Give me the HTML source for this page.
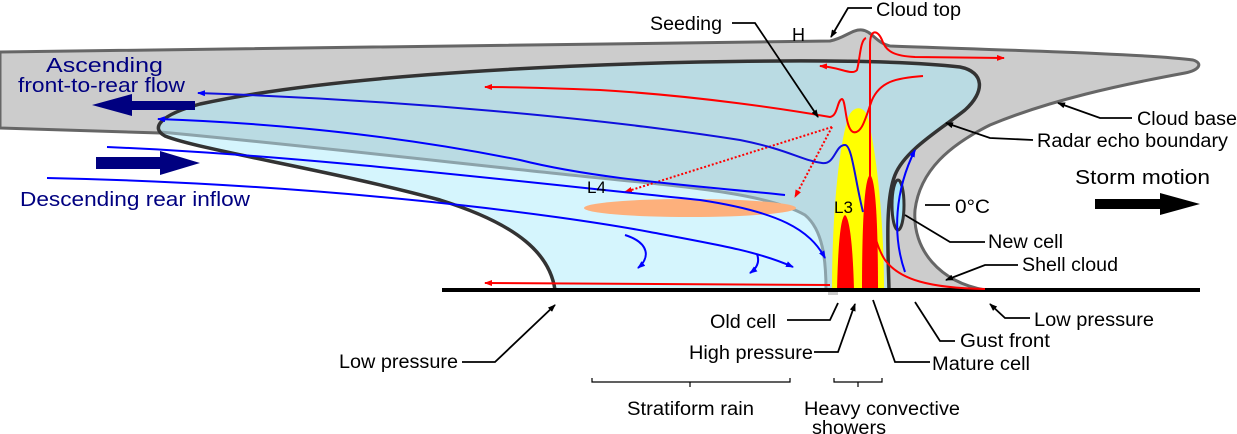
<!DOCTYPE html>
<html><head><meta charset="utf-8"><style>
html,body{margin:0;padding:0;background:#fff}
svg{display:block}
text{font-family:"Liberation Sans",sans-serif}
</style></head><body>
<svg width="1237" height="434" viewBox="0 0 1237 434" xmlns="http://www.w3.org/2000/svg">
<defs>
<marker id="ab" markerWidth="8" markerHeight="6" refX="7" refY="3" orient="auto" markerUnits="userSpaceOnUse"><path d="M0,0 L8,3 L0,6 Z" fill="#000"/></marker>
<marker id="ar" markerWidth="8" markerHeight="6" refX="7" refY="3" orient="auto" markerUnits="userSpaceOnUse"><path d="M0,0 L8,3 L0,6 Z" fill="#f00"/></marker>
<marker id="abl" markerWidth="8" markerHeight="6" refX="7" refY="3" orient="auto" markerUnits="userSpaceOnUse"><path d="M0,0 L8,3 L0,6 Z" fill="#00f"/></marker>
</defs>

<path d="M0,52 L830,41 C845,38 852,29 862,30 C872,31 876,43 890,46 C1000,50 1150,54 1193,60 C1203,63 1200,70 1185,73 C1120,85 1050,100 990,125 C950,145 920,170 915,210 C912,250 940,282 985,290 L830,290 L830,150 L160,133 L0,128 Z" fill="#cccccc" stroke="#666" stroke-width="3" stroke-linejoin="round"/>
<rect x="828" y="135" width="10" height="160" fill="#cccccc"/>

<path d="M555,290 C550,255 520,225 440,200 C330,170 200,150 165,136 C150,128 160,115 200,104 C320,78 520,66 700,62 C800,60 900,60 960,67 C985,72 985,92 965,110 C940,130 905,150 895,175 C885,200 888,250 889,290 Z" fill="#badbe3"/>
<path d="M160,132 C300,145 500,168 600,178 C700,188 770,195 805,215 C823,230 826,260 826,290 L555,290 C550,255 520,225 440,200 C330,170 200,150 165,136 Z" fill="#d5f5fd"/>
<path d="M160,132 C300,145 500,168 600,178 C700,188 770,195 805,215 C823,230 826,260 826,290" fill="none" stroke="#8ca3aa" stroke-width="3"/>
<path d="M555,290 C550,255 520,225 440,200 C330,170 200,150 165,136 C150,128 160,115 200,104 C320,78 520,66 700,62 C800,60 900,60 960,67 C985,72 985,92 965,110 C940,130 905,150 895,175 C885,200 888,250 889,290" fill="none" stroke="#333" stroke-width="3.5"/>

<ellipse cx="690" cy="208" rx="106" ry="9" fill="#fdb07c"/>

<path d="M832,290 C832,220 838,150 848,118 C852,106 864,104 868,118 C878,160 884,230 884,290 Z" fill="#ffff00"/>
<path d="M837,290 C838,250 840,218 845,215 C850,218 853,250 854,290 Z" fill="#f00"/>
<path d="M862,290 C862,230 864,178 870,175 C876,178 878,230 878,290 Z" fill="#f00"/>

<ellipse cx="898" cy="205" rx="6" ry="25" fill="#a8e4f4" stroke="#333" stroke-width="3"/>
<path d="M905,272 C892,235 895,190 915,150" fill="none" stroke="#00f" stroke-width="2" marker-end="url(#abl)"/>

<line x1="442" y1="290" x2="1200" y2="290" stroke="#000" stroke-width="4"/>

<path d="M985,289 C930,288 900,280 885,260 C872,240 870,210 870,180 L870,45 C870,28 878,30 882,40 C886,52 895,56 915,57 L1004,58" fill="none" stroke="#f00" stroke-width="2" marker-end="url(#ar)"/>
<path d="M866,38 C860,40 860,60 857,70 C852,76 840,67 820,66" fill="none" stroke="#f00" stroke-width="2" marker-end="url(#ar)"/>
<path d="M923,76 C895,78 880,82 872,100 C866,116 862,135 853,132 C845,128 846,100 842,99 C837,100 838,116 830,117 C790,110 700,96 600,90 C550,88 510,87 485,87" fill="none" stroke="#f00" stroke-width="2" marker-end="url(#ar)"/>
<path d="M830,285 L485,283" fill="none" stroke="#f00" stroke-width="2" marker-end="url(#ar)"/>
<path d="M832,127 L625,192" fill="none" stroke="#f00" stroke-width="2" stroke-dasharray="2,2" marker-end="url(#ar)"/>
<path d="M832,127 L795,197" fill="none" stroke="#f00" stroke-width="2" stroke-dasharray="2,2" marker-end="url(#ar)"/>

<path d="M863,212 C855,180 852,145 845,145 C835,145 835,165 822,163 C800,160 790,150 740,140 C600,118 400,100 198,93" fill="none" stroke="#1010dd" stroke-width="2" marker-end="url(#abl)"/>
<path d="M785,195 C700,186 600,180 520,160 C420,140 300,124 158,119" fill="none" stroke="#00f" stroke-width="2" marker-end="url(#abl)"/>
<path d="M107,147 C300,155 530,183 700,200 C780,212 810,230 825,258" fill="none" stroke="#00f" stroke-width="2" marker-end="url(#abl)"/>
<path d="M47,178 C330,184 560,215 650,232 C720,245 760,252 793,267" fill="none" stroke="#00f" stroke-width="2" marker-end="url(#abl)"/>
<path d="M625,235 C650,243 650,258 638,268" fill="none" stroke="#00f" stroke-width="2" marker-end="url(#abl)"/>
<path d="M757,254 C760,262 757,268 750,273" fill="none" stroke="#00f" stroke-width="2" marker-end="url(#abl)"/>

<path d="M195,101 L132,101 L132,94 L92,105 L132,116 L132,110 L195,110 Z" fill="#000080"/>
<path d="M96,157 L160,157 L160,151 L200,163 L160,175 L160,169 L96,169 Z" fill="#000080"/>
<g font-size="20" fill="#000080">
<text x="46" y="72" textLength="117" lengthAdjust="spacingAndGlyphs">Ascending</text>
<text x="18" y="92" textLength="167" lengthAdjust="spacingAndGlyphs">front-to-rear flow</text>
<text x="20" y="206" textLength="230" lengthAdjust="spacingAndGlyphs">Descending rear inflow</text>
</g>

<path d="M1095,199 L1160,199 L1160,193 L1200,204 L1160,215 L1160,209 L1095,209 Z" fill="#000"/>
<text x="1075" y="184" font-size="20" textLength="135" lengthAdjust="spacingAndGlyphs">Storm motion</text>

<g font-size="19" fill="#000" lengthAdjust="spacingAndGlyphs">
<text x="587" y="193" font-size="17">L4</text>
<text x="834" y="213" font-size="17">L3</text>
<text x="792" y="41" font-size="18">H</text>
<text x="650" y="30" textLength="72" lengthAdjust="spacingAndGlyphs">Seeding</text>
<text x="876" y="16" textLength="85" lengthAdjust="spacingAndGlyphs">Cloud top</text>
<text x="1137" y="125" textLength="100" lengthAdjust="spacingAndGlyphs">Cloud base</text>
<text x="1037" y="147" textLength="191" lengthAdjust="spacingAndGlyphs">Radar echo boundary</text>
<text x="955" y="213" textLength="35" lengthAdjust="spacingAndGlyphs">0°C</text>
<text x="988" y="248" textLength="75" lengthAdjust="spacingAndGlyphs">New cell</text>
<text x="1022" y="271" textLength="96" lengthAdjust="spacingAndGlyphs">Shell cloud</text>
<text x="1034" y="326" textLength="120" lengthAdjust="spacingAndGlyphs">Low pressure</text>
<text x="960" y="347" textLength="90" lengthAdjust="spacingAndGlyphs">Gust front</text>
<text x="932" y="370" textLength="98" lengthAdjust="spacingAndGlyphs">Mature cell</text>
<text x="710" y="328" textLength="66" lengthAdjust="spacingAndGlyphs">Old cell</text>
<text x="689" y="359" textLength="124" lengthAdjust="spacingAndGlyphs">High pressure</text>
<text x="339" y="368" textLength="119" lengthAdjust="spacingAndGlyphs">Low pressure</text>
<text x="627" y="415" textLength="127" lengthAdjust="spacingAndGlyphs">Stratiform rain</text>
<text x="804" y="415" textLength="156" lengthAdjust="spacingAndGlyphs">Heavy convective</text>
<text x="812" y="434" textLength="74" lengthAdjust="spacingAndGlyphs">showers</text>
</g>
<g fill="none" stroke="#000" stroke-width="1.8">
<path d="M732,23 L755,23 L818,117" marker-end="url(#ab)"/>
<path d="M872,8 L848,8 L831,37" marker-end="url(#ab)"/>
<path d="M1132,118 L1100,118 L1058,103" marker-end="url(#ab)"/>
<path d="M1033,140 L990,138 L946,123" marker-end="url(#ab)"/>
<path d="M925,205 L950,205"/>
<path d="M985,242 L950,242 L905,215"/>
<path d="M1018,265 L985,265 L946,280" marker-end="url(#ab)"/>
<path d="M1030,318 L1005,318 L990,304" marker-end="url(#ab)"/>
<path d="M955,341 L940,341 L915,302"/>
<path d="M930,362 L895,362 L873,300"/>
<path d="M787,320 L830,320 L838,303"/>
<path d="M814,352 L838,352 L855,304" marker-end="url(#ab)"/>
<path d="M462,362 L495,362 L555,305" marker-end="url(#ab)"/>
<path d="M592,378 L592,382 L690,382 L690,387 M690,382 L790,382 L790,378" stroke-width="1.2"/>
<path d="M834,378 L834,382 L858,382 L858,387 M858,382 L882,382 L882,378" stroke-width="1.2"/>
</g>
</svg>
</body></html>
